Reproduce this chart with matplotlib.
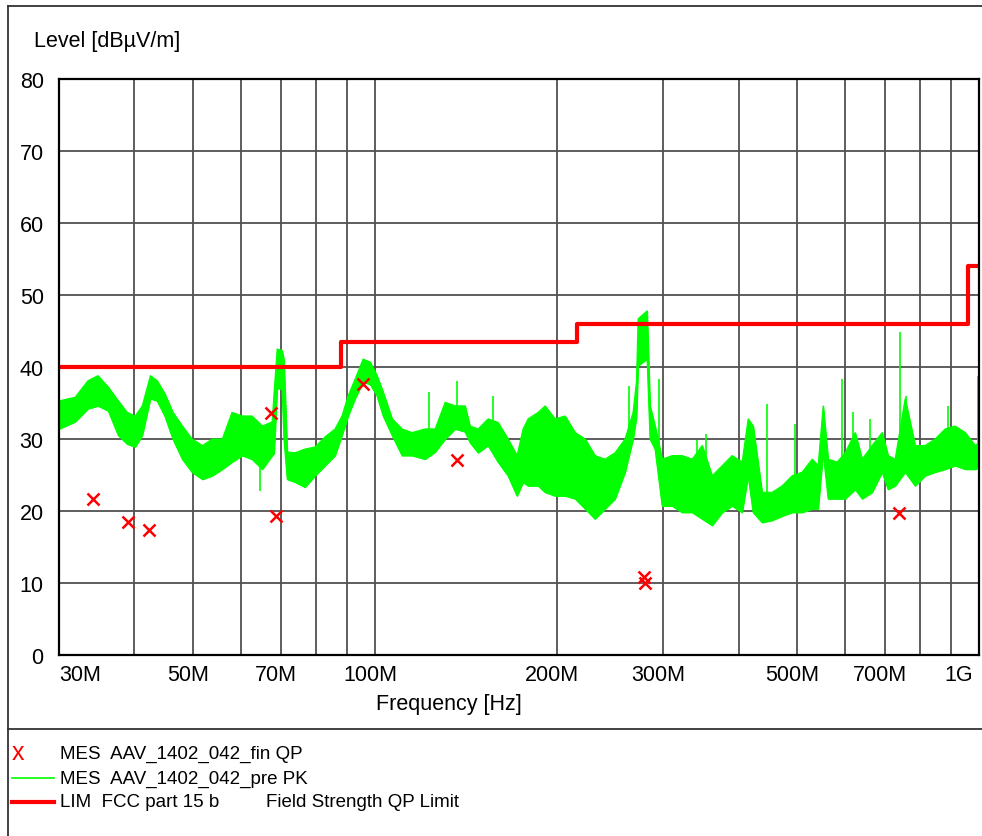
import numpy as np
import matplotlib
matplotlib.use("Agg")
import matplotlib.pyplot as plt
from matplotlib.lines import Line2D

plt.rcParams['font.family'] = ['Liberation Sans', 'DejaVu Sans']

# pre-scan peak trace, read as an envelope (MHz, dBuV/m)
pk_freq = [30.0, 31.9, 33.5, 34.8, 36.2, 37.6, 38.9, 40.1, 41.2, 42.5, 43.6, 44.9, 46.3, 48.0,
           49.8, 51.8, 53.8, 55.9, 58.0, 60.3, 62.6, 65.1, 67.6, 68.1, 68.9, 70.2, 70.7, 71.6,
           73.8, 76.6, 79.6, 82.7, 85.9, 88.2, 90.3, 92.7, 95.6, 98.2, 100.8, 103.2, 106.8,
           110.9, 115.2, 121.1, 125.8, 130.7, 135.8, 141.0, 143.7, 148.2, 153.9, 159.9, 166.1,
           171.9, 175.9, 179.3, 186.3, 191.3, 198.7, 206.4, 214.5, 222.8, 231.4, 240.4, 249.8,
           259.5, 267.5, 271.0, 272.7, 282.2, 285.4, 290.9, 298.9, 310.5, 322.5, 335.1, 348.1,
           361.6, 375.7, 390.2, 405.4, 414.8, 422.8, 437.5, 454.5, 472.2, 490.5, 509.6, 529.4,
           541.6, 552.1, 562.7, 582.3, 600.4, 623.7, 640.6, 665.4, 691.2, 707.2, 726.4, 754.6,
           783.9, 814.3, 845.9, 878.8, 912.9, 948.7, 985.5, 1000.0]
pk_high = [35.3, 35.8, 38.1, 38.8, 37.2, 35.3, 33.7, 33.2, 34.6, 38.8, 38.1, 36.3, 33.7, 31.8,
           30.0, 29.1, 30.0, 30.0, 33.7, 33.2, 33.2, 31.8, 32.4, 36.5, 42.5, 42.3, 41.0, 28.2,
           28.1, 28.6, 28.9, 30.3, 31.4, 33.2, 36.0, 38.3, 41.1, 40.7, 38.8, 36.5, 32.8,
           31.4, 30.9, 31.4, 31.4, 35.1, 34.6, 34.6, 31.8, 31.4, 32.8, 32.3, 30.0,
           27.7, 31.4, 32.8, 33.7, 34.6, 32.8, 33.2, 30.9, 30.0, 27.7, 27.2, 28.1,
           30.0, 33.7, 38.0, 46.7, 47.8, 34.6, 31.8, 27.2, 27.7, 27.7, 27.2, 29.1,
           24.9, 26.3, 27.7, 26.8, 32.8, 31.8, 22.6, 22.6, 23.5, 24.9, 25.4, 27.2,
           26.3, 34.6, 27.2, 26.8, 28.1, 30.9, 27.2, 29.1, 30.9, 27.7, 27.2, 35.6,
           29.1, 29.1, 30.0, 31.4, 31.8, 30.9, 29.1, 29.5]
pk_low = [31.4, 32.4, 34.2, 34.6, 33.9, 30.5, 29.3, 28.9, 30.5, 35.6, 35.3, 33.2, 30.0, 27.2,
          25.4, 24.4, 24.9, 25.8, 26.8, 27.7, 27.2, 25.8, 27.7, 28.0, 37.0, 37.0, 30.0, 24.4,
          24.0, 23.3, 24.9, 26.3, 27.7, 30.5, 33.2, 35.6, 37.9, 37.6, 36.0, 33.2, 30.5,
          27.7, 27.7, 27.2, 28.2, 30.0, 31.4, 31.0, 29.5, 28.1, 29.1, 26.8, 24.9,
          22.1, 24.0, 23.5, 23.5, 22.6, 22.1, 22.1, 21.7, 20.3, 18.9, 20.3, 21.7,
          25.4, 30.0, 33.0, 40.2, 41.1, 30.0, 28.6, 20.7, 20.7, 19.8, 19.8, 18.9,
          18.0, 19.8, 20.7, 19.8, 24.9, 19.8, 18.4, 18.7, 19.3, 19.8, 19.8, 20.3,
          20.3, 28.1, 21.7, 21.7, 21.7, 23.0, 21.7, 22.6, 25.4, 23.0, 23.5, 25.4,
          23.5, 24.9, 25.4, 25.8, 26.3, 25.8, 25.8, 26.0]

# isolated narrow spikes in the peak trace
spike_freq = [64.5, 122.7, 137.0, 157.1, 263.5, 295.5, 342.0, 353.0, 445.5, 495.0,
              593.0, 618.0, 659.0, 740.6, 757.0, 890.0, 997.0]
spike_low = [22.8, 30.0, 32.0, 31.0, 30.0, 28.0, 22.0, 22.0, 20.0, 22.0,
             24.0, 24.0, 25.0, 25.0, 27.0, 28.0, 28.0]
spike_high = [27.0, 36.5, 38.1, 36.0, 37.4, 38.3, 29.8, 30.7, 34.9, 32.1,
              38.3, 33.7, 32.8, 44.8, 36.0, 34.6, 38.8]

# final QP measurements
qp_freq = [34.1, 39.0, 42.3, 67.3, 68.6, 95.6, 136.8, 278.7, 279.9, 738.0]
qp_level = [21.7, 18.5, 17.4, 33.6, 19.3, 37.6, 27.1, 10.8, 10.0, 19.7]

# FCC part 15 b limit
lim_freq = [30, 88, 216, 960, 1000]
lim_level = [40, 43.5, 46, 54, 54]

xtick_vals = [30, 50, 70, 100, 200, 300, 500, 700, 1000]
xtick_labels = ['30M', '50M', '70M', '100M', '200M', '300M', '500M', '700M', '1G']
grid_freq = [40, 50, 60, 70, 80, 90, 100, 200, 300, 400, 500, 600, 700, 800, 900]

green = '#00ff00'
red = '#ff0000'

fig = plt.figure(figsize=(9.82, 8.37), dpi=100)
ax = fig.add_axes([59 / 982, 1 - 656 / 837, 920 / 982, 576 / 837])

ax.fill_between(pk_freq, pk_low, pk_high, color=green, lw=0.8, zorder=3)
ax.plot(pk_freq, pk_high, color=green, lw=0.8, zorder=3)
ax.plot(pk_freq, pk_low, color=green, lw=0.8, zorder=3)
ax.vlines(spike_freq, spike_low, spike_high, color=green, lw=1.2, zorder=3)
ax.plot(lim_freq, lim_level, drawstyle='steps-post', color=red, lw=3, zorder=4)
ax.plot(qp_freq, qp_level, ls='none', marker='x', ms=8, mew=1.8, color=red, zorder=5)

ax.set_xscale('log')
ax.set_xlim(30, 1000)
ax.set_ylim(0, 80)
ax.set_yticks(range(0, 81, 10))
ax.set_xticks(grid_freq)
ax.set_xticklabels([])
ax.minorticks_off()
ax.tick_params(length=0, labelsize=15.5, pad=11)
ax.grid(True, color='#505050', lw=1.3)
for s in ax.spines.values():
    s.set_linewidth(1.6)
    s.set_zorder(6)

# x tick labels (sit slightly left of their gridlines)
for i, (v, lab) in enumerate(zip(xtick_vals, xtick_labels)):
    ha, dx = 'center', -5
    if i == 0:
        ha, dx = 'left', 0
    elif i == len(xtick_vals) - 1:
        ha, dx = 'right', -6
    ax.annotate(lab, xy=(v, 0), xycoords=('data', 'axes fraction'), xytext=(dx, -9),
                textcoords='offset pixels', ha=ha, va='top', fontsize=15.5, annotation_clip=False)

fig.text(449 / 982, 1 - 705 / 837, 'Frequency [Hz]', ha='center', va='center', fontsize=15.5)
fig.text(34 / 982, 1 - 41 / 837, 'Level [dB\u00b5V/m]', ha='left', va='center', fontsize=15.5)

# outer frame and legend separator
W, H = 982, 837
fig.add_artist(Line2D([8 / W, 8 / W], [0, 1 - 7 / H], color='#333333', lw=1.3))
fig.add_artist(Line2D([8 / W, 1], [1 - 7 / H, 1 - 7 / H], color='#333333', lw=1.3))
fig.add_artist(Line2D([8 / W, 1], [1 - 730 / H, 1 - 730 / H], color='#333333', lw=1.3))

# legend
fig.text(18 / W, 1 - 753 / H, 'x', color=red, ha='center', va='center', fontsize=18)
fig.add_artist(Line2D([12 / W, 54 / W], [1 - 779 / H, 1 - 779 / H], color=green, lw=1.2))
fig.add_artist(Line2D([12 / W, 54 / W], [1 - 803 / H, 1 - 803 / H], color=red, lw=3))
fig.text(60 / W, 1 - 754 / H, 'MES  AAV_1402_042_fin QP', ha='left', va='center', fontsize=13.5)
fig.text(60 / W, 1 - 779 / H, 'MES  AAV_1402_042_pre PK', ha='left', va='center', fontsize=13.5)
fig.text(60 / W, 1 - 803 / H, 'LIM  FCC part 15 b', ha='left', va='center', fontsize=13.5)
fig.text(266 / W, 1 - 803 / H, 'Field Strength QP Limit', ha='left', va='center', fontsize=13.5)

fig.savefig('out.png', dpi=100)
